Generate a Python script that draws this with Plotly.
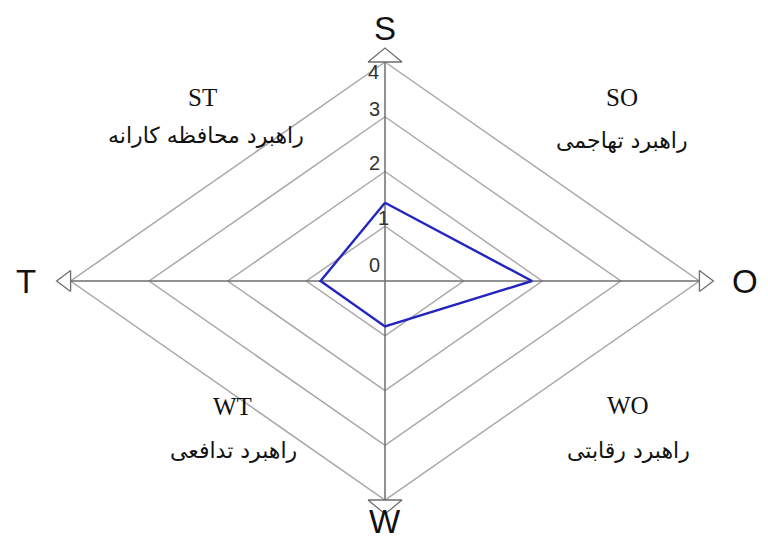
import plotly.graph_objects as go

# ---- data ----
categories = ["S", "O", "W", "T"]
values = [1.43, 1.87, 0.83, 0.82]
levels = [1, 2, 3, 4]
tick_labels = ["0", "1", "2", "3", "4"]
quad_codes = ["ST", "SO", "WT", "WO"]
quad_names = ["راهبرد محافظه کارانه", "راهبرد تهاجمی", "راهبرد تدافعی", "راهبرد رقابتی"]

# ---- geometry helpers ----
directions = {"S": (0, 1), "O": (1, 0), "W": (0, -1), "T": (-1, 0)}
PAGE_OFF = 8  # default body margin of the html page
W, H = 768 - 2 * PAGE_OFF, 546 - 2 * PAGE_OFF
cx_px, cy_px = 385 - PAGE_OFF, 281 - PAGE_OFF
ux, uy = 78.6, 54.75  # pixels per level (x, y)
xr = [-cx_px / ux, (W - cx_px) / ux]
yr = [-(H - cy_px) / uy, cy_px / uy]

GRID = "#a8a8a8"
AXIS = "#6e6e6e"
BLUE = "#2424c0"

fig = go.Figure()

# grid diamonds
for L in levels:
    xs, ys = [], []
    for c in categories + [categories[0]]:
        dx, dy = directions[c]
        xs.append(dx * L)
        ys.append(dy * L)
    fig.add_trace(go.Scatter(x=xs, y=ys, mode="lines",
                             line=dict(color=GRID, width=1.5), hoverinfo="skip"))

maxL = max(levels)
# axes lines
for a, b in [("S", "W"), ("T", "O")]:
    fig.add_trace(go.Scatter(x=[directions[a][0] * maxL, directions[b][0] * maxL],
                             y=[directions[a][1] * maxL, directions[b][1] * maxL],
                             mode="lines", line=dict(color=AXIS, width=1.5), hoverinfo="skip"))

# arrowheads (open triangles)
tip_px, half_px = 14, 17
for c in categories:
    dx, dy = directions[c]
    if dx == 0:
        tl = tip_px / uy
        hw = half_px / ux
        xs = [-hw, hw, 0, -hw]
        ys = [dy * maxL, dy * maxL, dy * (maxL + tl), dy * maxL]
    else:
        tl = tip_px / ux
        hh = 10.5 / uy
        xs = [dx * maxL, dx * maxL, dx * (maxL + tl), dx * maxL]
        ys = [-hh, hh, 0, -hh]
    fig.add_trace(go.Scatter(x=xs, y=ys, mode="lines", fill="toself", fillcolor="white",
                             line=dict(color=AXIS, width=1.3), hoverinfo="skip"))

# data polygon
px, py = [], []
for c, v in zip(categories + [categories[0]], values + [values[0]]):
    dx, dy = directions[c]
    px.append(dx * v)
    py.append(dy * v)
fig.add_trace(go.Scatter(x=px, y=py, mode="lines", line=dict(color=BLUE, width=2.4),
                         hoverinfo="skip"))

# axis letters
letter_off_px = {"S": 253, "O": 360, "W": 240, "T": 359}
ann = []
for c in categories:
    dx, dy = directions[c]
    off = letter_off_px[c]
    ann.append(dict(x=dx * off / ux, y=dy * off / uy, text=c, showarrow=False,
                    xref="x", yref="y", xanchor="center", yanchor="middle",
                    font=dict(family="Liberation Sans, Arial", size=33, color="#111")))

# tick labels along S axis
tick_pos_px = [(-11, 16), (-2, 63), (-11, 118), (-11, 172), (-12, 209)]
for t, (ox, oy) in zip(tick_labels, tick_pos_px):
    ann.append(dict(x=ox / ux, y=oy / uy, text=t, showarrow=False, xref="x", yref="y",
                    xanchor="center", yanchor="middle",
                    font=dict(family="Liberation Sans, Arial", size=20, color="#333")))

# quadrant labels
quad_pos_px = [(-183, 184, -179, 146), (237, 184, 237, 141),
               (-153, -125, -152, -169), (243, -124, 243, -169)]
for code, name, (x1, y1, x2, y2) in zip(quad_codes, quad_names, quad_pos_px):
    ann.append(dict(x=x1 / ux, y=y1 / uy, text=code, showarrow=False, xref="x", yref="y",
                    xanchor="center", yanchor="middle",
                    font=dict(family="Liberation Serif, Times New Roman", size=25, color="#111")))
    ann.append(dict(x=x2 / ux, y=y2 / uy, text=name, showarrow=False, xref="x", yref="y",
                    xanchor="center", yanchor="middle",
                    font=dict(family="DejaVu Sans, Liberation Serif", size=22, color="#111")))

fig.update_layout(
    width=W, height=H,
    margin=dict(l=0, r=0, t=0, b=0),
    paper_bgcolor="white", plot_bgcolor="white",
    showlegend=False,
    xaxis=dict(range=xr, visible=False, fixedrange=True),
    yaxis=dict(range=yr, visible=False, fixedrange=True),
    annotations=ann,
)

fig.write_html("out.html")
